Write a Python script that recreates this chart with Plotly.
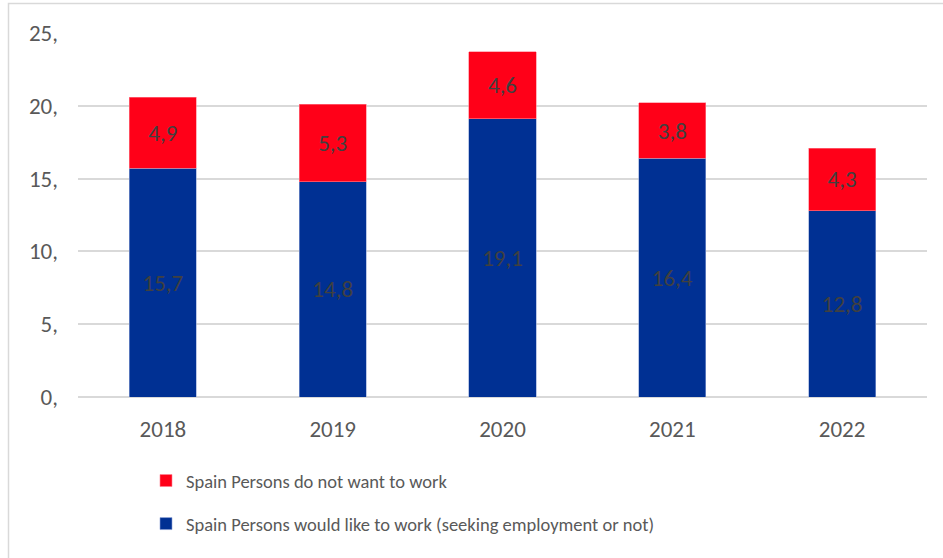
import plotly.graph_objects as go

years = ["2018", "2019", "2020", "2021", "2022"]
would_like_to_work = [15.7, 14.8, 19.1, 16.4, 12.8]
do_not_want_to_work = [4.9, 5.3, 4.6, 3.8, 4.3]
y_ticks = [0, 5, 10, 15, 20, 25]
y_tick_labels = ["0,", "5,", "10,", "15,", "20,", "25,"]

FONT = "Carlito, Calibri, Lato, sans-serif"
W, H = 943, 558
L, R, T, B = 78, 16, 33, 161
pw, ph = W - L - R, H - T - B


def px_x(x):
    return (x - L) / pw


def px_y(y):
    return (H - B - y) / ph


def fmt(v):
    return f"{v:.1f}".replace(".", ",")


fig = go.Figure()
fig.add_trace(go.Bar(
    x=years, y=would_like_to_work,
    name="Spain Persons would like to work (seeking employment or not)",
    marker=dict(color="#003093", line=dict(color="#8fa3d6", width=0.6)),
    text=[fmt(v) for v in would_like_to_work],
    textposition="inside", insidetextanchor="middle",
    textfont=dict(family=FONT, size=23, color="#404040"),
    legendgroup="a", legendrank=2,
))
fig.add_trace(go.Bar(
    x=years, y=do_not_want_to_work,
    name="Spain Persons do not want to work",
    marker=dict(color="#FF0018", line=dict(color="#ff8090", width=0.6)),
    text=[fmt(v) for v in do_not_want_to_work],
    textposition="inside", insidetextanchor="middle",
    textfont=dict(family=FONT, size=23, color="#404040"),
    legendgroup="b", legendrank=1,
))

fig.update_layout(
    width=W, height=H,
    margin=dict(l=L, r=R, t=T, b=B, autoexpand=False),
    barmode="stack", bargap=0.605,
    plot_bgcolor="white", paper_bgcolor="white",
    font=dict(family=FONT, size=18, color="#595959"),
    uniformtext=dict(mode="show", minsize=10),
    showlegend=True,
    legend=dict(
        orientation="v", traceorder="grouped", tracegroupgap=16,
        x=px_x(146), xanchor="left", y=px_y(462), yanchor="top",
        font=dict(family=FONT, size=18.5, color="#595959"),
        bgcolor="rgba(0,0,0,0)",
    ),
    xaxis=dict(
        showgrid=False, zeroline=False, showline=False,
        ticks="", ticklabelstandoff=16,
        tickfont=dict(family=FONT, size=23, color="#595959"),
    ),
    yaxis=dict(
        range=[0, 25], tickvals=y_ticks, ticktext=y_tick_labels,
        showgrid=True, gridcolor="#D9D9D9", gridwidth=1.5,
        zeroline=True, zerolinecolor="#D9D9D9", zerolinewidth=1.5,
        showline=False, ticks="", ticklabelstandoff=19,
        tickfont=dict(family=FONT, size=23, color="#595959"),
    ),
    shapes=[dict(
        type="rect", xref="paper", yref="paper",
        x0=px_x(8.5), x1=px_x(950), y0=px_y(565), y1=px_y(3.5),
        line=dict(color="#D9D9D9", width=1.5), fillcolor="rgba(0,0,0,0)",
        layer="below",
    )],
)

fig.write_html("out.html")
